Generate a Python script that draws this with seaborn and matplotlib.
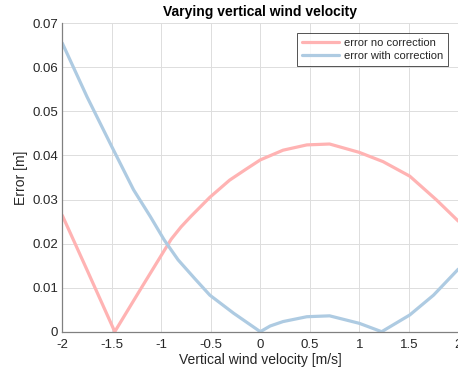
import matplotlib
matplotlib.use("Agg")
import matplotlib.pyplot as plt
import seaborn as sns
import pandas as pd

# Data
x_no_corr = [-2.0, -1.75, -1.47, -1.2, -0.9, -0.8, -0.7, -0.51, -0.31, -0.15, 0.0, 0.23, 0.47, 0.7, 1.0, 1.24, 1.51, 1.78, 2.0]
y_no_corr = [0.0264, 0.0140, 0.0, 0.0100, 0.0210, 0.0238, 0.0262, 0.0305, 0.0344, 0.0368, 0.0390, 0.0412, 0.0424, 0.0426, 0.0407, 0.0386, 0.0353, 0.0299, 0.0251]
x_corr = [-2.0, -1.75, -1.5, -1.28, -1.11, -0.97, -0.83, -0.66, -0.51, -0.27, 0.0, 0.1, 0.23, 0.47, 0.7, 1.0, 1.226, 1.51, 1.75, 2.0]
y_corr = [0.0655, 0.0533, 0.0420, 0.0322, 0.0261, 0.0208, 0.0163, 0.0120, 0.0083, 0.0042, 0.0, 0.0013, 0.0023, 0.0034, 0.0036, 0.0019, 0.0, 0.0038, 0.0083, 0.0142]
series_names = ["error no correction", "error with correction"]
x_ticks = [-2, -1.5, -1, -0.5, 0, 0.5, 1, 1.5, 2]
x_tick_labels = ["-2", "-1.5", "-1", "-0.5", "0", "0.5", "1", "1.5", "2"]
y_ticks = [0, 0.01, 0.02, 0.03, 0.04, 0.05, 0.06, 0.07]
y_tick_labels = ["0", "0.01", "0.02", "0.03", "0.04", "0.05", "0.06", "0.07"]

df = pd.concat([
    pd.DataFrame({"x": x_no_corr, "y": y_no_corr, "series": series_names[0]}),
    pd.DataFrame({"x": x_corr, "y": y_corr, "series": series_names[1]}),
], ignore_index=True)

sns.set_style("white")
plt.rcParams["font.family"] = ["Liberation Sans", "DejaVu Sans"]

text_col = "#262626"
fig = plt.figure(figsize=(4.58, 3.76), dpi=100)
ax = fig.add_axes([62.3 / 458, 44.3 / 376, (458.3 - 62.3) / 458, (331.7 - 23.3) / 376])

palette = {series_names[0]: "#FFB3B3", series_names[1]: "#AECBE2"}
sns.lineplot(data=df, x="x", y="y", hue="series", palette=palette, ax=ax,
             linewidth=2.3, sort=False, estimator=None, legend=True)

ax.set_xlim(-2, 2)
ax.set_ylim(0, 0.07)
ax.set_xticks(x_ticks)
ax.set_xticklabels(x_tick_labels)
ax.set_yticks(y_ticks)
ax.set_yticklabels(y_tick_labels)
ax.grid(True, color="#DDDDDD", linewidth=0.7)
ax.set_axisbelow(True)

for s in ["top", "right"]:
    ax.spines[s].set_visible(False)
for s in ["left", "bottom"]:
    ax.spines[s].set_color("#808080")
    ax.spines[s].set_linewidth(0.9)

ax.tick_params(axis="both", direction="in", length=3.5, width=0.7, color="#808080",
               labelsize=9.5, labelcolor=text_col, pad=3)
ax.tick_params(axis="x", pad=5)

ax.set_xlabel("Vertical wind velocity [m/s]", fontsize=10, color=text_col, labelpad=2)
ax.set_ylabel("Error [m]", fontsize=10, color=text_col)
ax.yaxis.set_label_coords(-0.087, 0.5)
ax.set_title("Varying vertical wind velocity", fontsize=10, fontweight="bold", color="black", pad=5)

leg = ax.legend(loc="upper right", fontsize=8,
                frameon=True, fancybox=False, edgecolor="#262626", handlelength=3.4,
                borderpad=0.4, labelspacing=0.3, handletextpad=0.45, borderaxespad=0)
leg.get_frame().set_linewidth(0.7)
leg.set_bbox_to_anchor((448 / 458, (376 - 33.3) / 376), transform=fig.transFigure)
for t in leg.get_texts():
    t.set_color(text_col)

fig.savefig("out.png", dpi=100)
